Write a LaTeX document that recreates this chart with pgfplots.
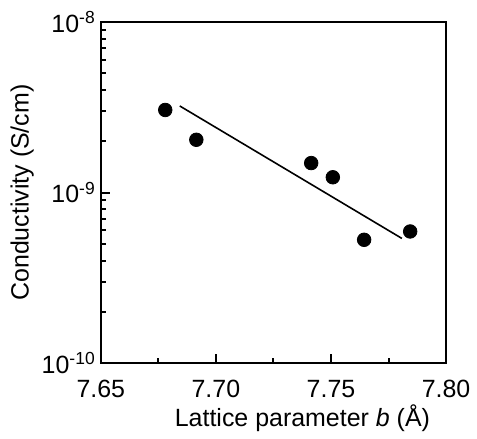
\documentclass[border=0pt]{standalone}
\usepackage{fontspec}
\setmainfont{Liberation Sans}
\usepackage{pgfplots}
\pgfplotsset{compat=1.18}
\begin{document}
\begin{tikzpicture}
\path (-50.5pt,-32.5pt) rectangle (188pt,182pt);
\begin{axis}[
  at={(0,0)}, anchor=south west,
  scale only axis, width=173pt, height=171pt,
  ymode=log, xmin=7.65, xmax=7.80, ymin=1e-10, ymax=1e-8,
  xtick={7.65,7.70,7.75,7.80},
  xticklabels={7.65,7.70,7.75,7.80},
  minor xtick={7.675,7.725,7.775},
  ytick={1e-10,1e-9,1e-8},
  yticklabels={10\textsuperscript{-10},10\textsuperscript{-9},10\textsuperscript{-8}},
  minor ytick={2e-10,3e-10,4e-10,5e-10,6e-10,7e-10,8e-10,9e-10,2e-9,3e-9,4e-9,5e-9,6e-9,7e-9,8e-9,9e-9},
  tick align=inside, xtick pos=left, ytick pos=left,
  major tick length=4.5pt, minor tick length=2.8pt,
  axis line style={line width=1pt},
  tick style={line width=1pt, black},
  ticklabel style={font=\fontsize{12.5}{14}\selectfont},
  xticklabel style={yshift=-5pt},
  yticklabel style={xshift=1pt},
  label style={font=\fontsize{12.5}{14}\selectfont},
  xlabel={Lattice parameter \textit{b} (Å)},
  ylabel={Conductivity (S/cm)},
  xlabel style={at={(axis description cs:0.584,-0.162)}, anchor=center},
  ylabel style={at={(axis description cs:-0.228,0.5)}, anchor=center},
]
\addplot[only marks, mark=*, mark size=3.4pt, black] coordinates {
  (7.678,3.05e-9) (7.6915,2.04e-9) (7.7414,1.49e-9) (7.7508,1.23e-9) (7.7644,5.29e-10) (7.7844,5.92e-10)
};
\addplot[black, line width=0.8pt, no marks] coordinates {
  (7.6843,3.22e-9) (7.7808,5.39e-10)
};
\end{axis}
\end{tikzpicture}
\end{document}
